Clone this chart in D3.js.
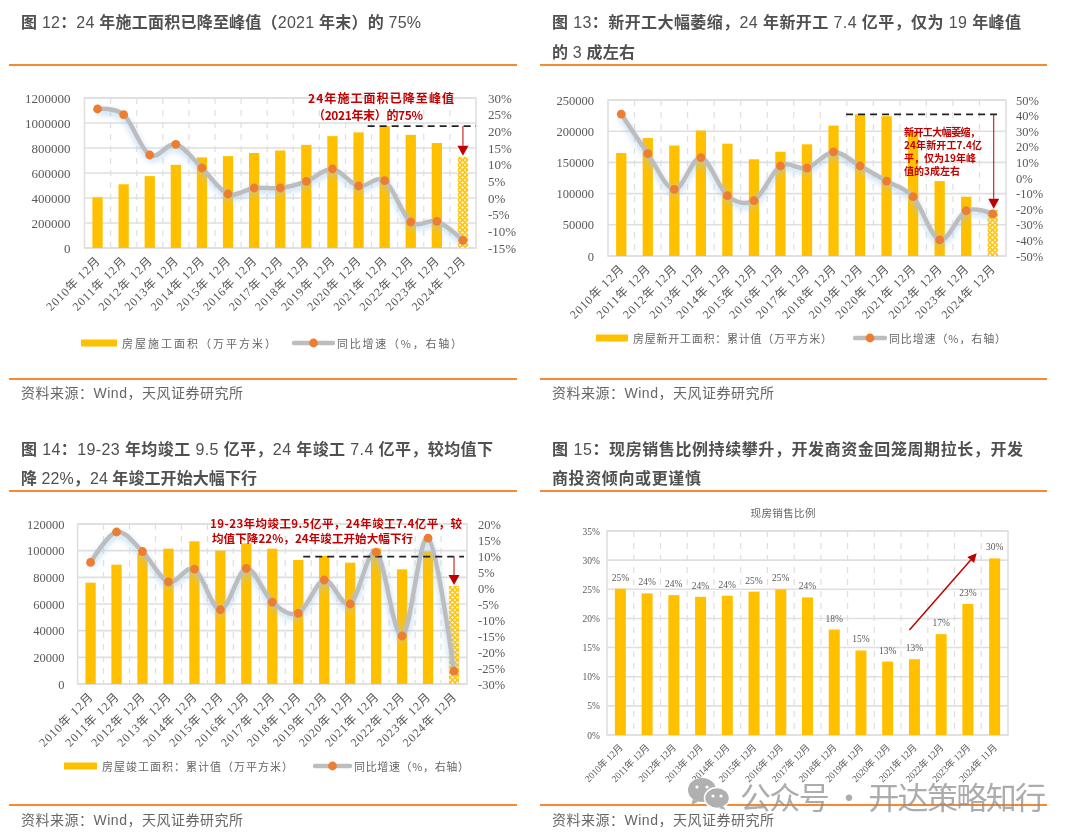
<!DOCTYPE html>
<html><head><meta charset="utf-8">
<script src="https://cdn.jsdelivr.net/npm/d3@7"></script>
<style>
html,body{margin:0;padding:0;background:#fff;}
svg{display:block;filter:blur(0.35px);}
</style></head><body>
<svg id="c" width="1080" height="838"></svg>
<script>
const years = ["2010","2011","2012","2013","2014","2015","2016","2017","2018","2019","2020","2021","2022","2023","2024"];
const catLabels = years.map(y => y + "年 12月");
const catLabels15 = years.map((y,i) => y + (i === 14 ? "年 11月" : "年 12月"));

const constructionArea = [405000,510000,575000,665000,725000,735000,760000,780000,825000,895000,925000,975000,905000,840000,730000];
const constructionYoY  = [26.7,25,12.9,16.1,9,1.2,3,3,5,8.7,3.6,5.2,-7.2,-7,-12.7];
const newStartArea = [165000,189000,177000,201000,180000,155000,167000,179000,209000,227000,224000,200000,120000,95000,74000];
const newStartYoY  = [41,15.6,-7.3,13,-11.3,-14.5,7.7,6.4,16.7,7.7,-2,-12,-39.7,-21,-23];
const completedArea = [76000,89500,98000,101500,107000,100000,105500,101500,93000,96000,91000,101500,86000,99500,73500];
const completedYoY  = [8,17.5,11.4,1.9,5.9,-6.8,6.1,-4.4,-7.9,2.5,-5,11.2,-15,15.6,-26];
const spotShare = [25.1,24.3,24,23.7,23.9,24.6,25,23.6,18.1,14.5,12.6,13,17.3,22.5,30.3];
const spotShareLabels = ["25%","24%","24%","24%","24%","25%","25%","24%","18%","15%","13%","13%","17%","23%","30%"];

const ORANGE_RULE="#f58a32", GOLD="#ffc000", RED="#c00000", TXT="#595959", GRID="#dfdfdf";
const SERIF='"Liberation Serif","Noto Sans CJK SC",serif';
const SANS='"Liberation Sans","Noto Sans CJK SC",sans-serif';
const CJK='"Noto Sans CJK SC",sans-serif';

const svg=d3.select("#c");
const defs=svg.append("defs");
const pat=defs.append("pattern").attr("id","lattice").attr("width",5).attr("height",5).attr("patternUnits","userSpaceOnUse");
pat.append("rect").attr("width",5).attr("height",5).attr("fill","#fff3c4");
pat.append("path").attr("d","M0 2.5L2.5 0L5 2.5L2.5 5Z").attr("fill","none").attr("stroke",GOLD).attr("stroke-width",1.3);
const glow=defs.append("filter").attr("id","glow").attr("x","-10%").attr("y","-30%").attr("width","120%").attr("height","160%");
glow.append("feDropShadow").attr("dx",0).attr("dy",3).attr("stdDeviation",3).attr("flood-color","#9cc8ee").attr("flood-opacity",0.75);

function txt(s,x,y,o={}){
  const t=svg.append("text").attr("x",x).attr("y",y).text(s)
    .attr("font-family",o.font||SANS).attr("font-size",o.size||12).attr("fill",o.fill||TXT)
    .attr("dominant-baseline","central");
  if(o.weight)t.attr("font-weight",o.weight);
  if(o.anchor)t.attr("text-anchor",o.anchor);
  if(o.width)t.attr("textLength",o.width).attr("lengthAdjust","spacing");
  return t;
}
function titleLine(s,x,y,w){
  const t=svg.append("text").attr("x",x).attr("y",y).attr("font-family",SANS).attr("font-size",16)
    .attr("fill","#505050").attr("dominant-baseline","central").attr("textLength",w).attr("lengthAdjust","spacing");
  (s.match(/[\x20-\x7e]+|[^\x20-\x7e]+/g)||[]).forEach(run=>{
    t.append("tspan").attr("font-weight",/^[\x20-\x7e]/.test(run)?400:700).attr("xml:space","preserve").text(run);
  });
}
function rule(x1,x2,y){svg.append("line").attr("x1",x1).attr("x2",x2).attr("y1",y).attr("y2",y).attr("stroke",ORANGE_RULE).attr("stroke-width",2);}
function header(lines,x,rx1,rx2,ry,src,srcY,ruleY2){
  lines.forEach(l=>titleLine(l.t,x,l.y,l.w));
  rule(rx1,rx2,ry); rule(rx1,rx2,ruleY2);
  txt(src,x,srcY,{size:14,fill:"#666",width:222});
}

function grid(g,x,yL,ticks,box){
  g.selectAll(".h").data(ticks).join("line").attr("x1",box.l).attr("x2",box.r)
    .attr("y1",d=>yL(d)).attr("y2",d=>yL(d)).attr("stroke",GRID).attr("stroke-width",1.6);
  const edges=d3.range(1,years.length).map(i=>x(years[i]));
  g.selectAll(".v").data(edges).join("line").attr("x1",d=>d).attr("x2",d=>d)
    .attr("y1",box.t).attr("y2",box.b).attr("stroke",GRID).attr("stroke-width",1.2).attr("stroke-dasharray","6 6");
  g.append("rect").attr("x",box.l).attr("y",box.t).attr("width",box.r-box.l).attr("height",box.b-box.t)
    .attr("fill","none").attr("stroke",GRID).attr("stroke-width",1.6);
}
function axisLabels(g,scale,orient,x,ticks,fmt,size){
  const ax=(orient==="l"?d3.axisLeft(scale):d3.axisRight(scale)).tickValues(ticks).tickFormat(fmt).tickSize(0).tickPadding(0);
  const a=g.append("g").attr("transform",`translate(${x},0)`).call(ax);
  a.select(".domain").remove();
  a.selectAll("text").attr("font-family",SERIF).attr("font-size",size).attr("fill",TXT);
}
function xLabels(g,x,labels,box,size,dy,len){
  const ax=d3.axisBottom(x).tickFormat((d,i)=>labels[i]).tickSize(0).tickPadding(0);
  const a=g.append("g").attr("transform",`translate(0,${box.b})`).call(ax);
  a.select(".domain").remove();
  a.selectAll("text").attr("font-family",SERIF).attr("font-size",size).attr("fill",TXT)
    .attr("text-anchor","end").attr("dy",0).attr("textLength",len).attr("lengthAdjust","spacing")
    .attr("transform",`translate(3,${dy}) rotate(-45)`);
}
function arrow(g,x1,y1,x2,y2,color,w,hl,hw){
  const a=Math.atan2(y2-y1,x2-x1), bx=x2-hl*Math.cos(a), by=y2-hl*Math.sin(a);
  g.append("line").attr("x1",x1).attr("y1",y1).attr("x2",bx).attr("y2",by).attr("stroke",color).attr("stroke-width",w);
  const px=-Math.sin(a)*hw/2, py=Math.cos(a)*hw/2;
  g.append("path").attr("d",`M${x2} ${y2}L${bx+px} ${by+py}L${bx-px} ${by-py}Z`).attr("fill",color);
}

function combo(o){
  const box=o.box, g=svg.append("g");
  const x=d3.scaleBand().domain(years).range([box.l,box.r]).padding(0);
  const yL=d3.scaleLinear().domain([0,o.leftMax]).range([box.b,box.t]);
  const yR=d3.scaleLinear().domain(o.rightDomain).range([box.b,box.t]);
  grid(g,x,yL,o.leftTicks,box);
  const bw=10.3, cx=d=>x(d)+x.bandwidth()/2;
  g.selectAll(".bar").data(years).join("rect")
    .attr("x",d=>cx(d)-bw/2).attr("width",bw)
    .attr("y",(d,i)=>yL(o.bars[i])).attr("height",(d,i)=>yL(0)-yL(o.bars[i]))
    .attr("fill",(d,i)=>i===14?"url(#lattice)":GOLD);
  const line=d3.line().x(d=>cx(d)).y((d,i)=>yR(o.line[i])).curve(d3.curveCatmullRom.alpha(0));
  g.append("path").attr("d",line(years)).attr("fill","none").attr("stroke","#bdbdbd").attr("stroke-width",4.4).attr("filter","url(#glow)");
  const refY=yL(o.refValue);
  g.append("line").attr("x1",cx(years[o.refFrom])-o.refBack).attr("x2",box.r-o.refEndInset).attr("y1",refY).attr("y2",refY)
    .attr("stroke","#222").attr("stroke-width",1.6).attr("stroke-dasharray","7 5");
  arrow(g,cx(years[14])+o.arrowDx,refY,cx(years[14])+o.arrowDx,yL(o.bars[14])-1,RED,1,10,11);
  g.selectAll(".dot").data(years).join("circle").attr("cx",cx).attr("cy",(d,i)=>yR(o.line[i])).attr("r",4.4).attr("fill","#ed7d31");
  axisLabels(g,yL,"l",box.l-o.leftGap,o.leftTicks,d=>String(d),o.tickSize);
  axisLabels(g,yR,"r",box.r+o.rightGap,o.rightTicks,d=>d+"%",o.tickSize);
  xLabels(g,x,catLabels,box,o.xSize,o.xDy,70);
  const L=o.legend;
  g.append("rect").attr("x",L.x0).attr("y",L.y-3.5).attr("width",L.x1-L.x0).attr("height",7).attr("fill",GOLD);
  txt(L.a,L.x1+5,L.y,{size:11,font:CJK,width:L.aw,fill:"#666"});
  g.append("line").attr("x1",L.x2).attr("x2",L.x3).attr("y1",L.y).attr("y2",L.y).attr("stroke","#bdbdbd").attr("stroke-width",4.4).attr("stroke-linecap","round");
  g.append("circle").attr("cx",(L.x2+L.x3)/2).attr("cy",L.y).attr("r",4.4).attr("fill","#ed7d31");
  txt(L.b,L.x3+4,L.y,{size:11,font:CJK,width:L.bw,fill:"#666"});
  o.notes.forEach(n=>txt(n.t,n.x,n.y,{size:n.s,font:CJK,weight:700,fill:RED,width:n.w}));
}

header([{t:"图 12：24 年施工面积已降至峰值（2021 年末）的 75%",y:22,w:400}],21,9,517,65,"资料来源：Wind，天风证券研究所",393,379);
header([{t:"图 13：新开工大幅萎缩，24 年新开工 7.4 亿平，仅为 19 年峰值",y:22,w:469},{t:"的 3 成左右",y:52,w:83}],552,540,1047,65,"资料来源：Wind，天风证券研究所",393,379);
header([{t:"图 14：19-23 年均竣工 9.5 亿平，24 年竣工 7.4 亿平，较均值下",y:449,w:472},{t:"降 22%，24 年竣工开始大幅下行",y:478,w:236}],21,9,517,491,"资料来源：Wind，天风证券研究所",820,805);
header([{t:"图 15：现房销售比例持续攀升，开发商资金回笼周期拉长，开发",y:449,w:471},{t:"商投资倾向或更谨慎",y:478,w:149}],552,540,1047,491,"资料来源：Wind，天风证券研究所",820,805);

combo({box:{l:84.5,r:476,t:98,b:248},bars:constructionArea,line:constructionYoY,leftMax:1200000,rightDomain:[-15,30],
  leftTicks:d3.range(0,1200001,200000),rightTicks:d3.range(-15,31,5),tickSize:13,xSize:12,xDy:14,leftGap:14,rightGap:12,
  refValue:975000,refFrom:11,refBack:17,refEndInset:0,arrowDx:0,
  legend:{x0:81,x1:117,x2:294,x3:333,y:343,a:"房屋施工面积（万平方米）",aw:154,b:"同比增速（%，右轴）",bw:125},
  notes:[{t:"24年施工面积已降至峰值",x:308,y:97,s:12,w:146},{t:"（2021年末）的75%",x:313,y:114,s:12,w:110}]});

combo({box:{l:608,r:1006,t:100,b:256},bars:newStartArea,line:newStartYoY,leftMax:250000,rightDomain:[-50,50],
  leftTicks:d3.range(0,250001,50000),rightTicks:d3.range(-50,51,10),tickSize:12.5,xSize:12,xDy:14,leftGap:14,rightGap:10,
  refValue:227000,refFrom:9,refBack:14,refEndInset:4,arrowDx:1,
  legend:{x0:596,x1:628,x2:855,x3:885,y:338,a:"房屋新开工面积：累计值（万平方米）",aw:199,b:"同比增速（%，右轴）",bw:117},
  notes:[{t:"新开工大幅萎缩，",x:904,y:131,s:10,w:76},{t:"24年新开工7.4亿",x:904,y:144,s:10,w:78},{t:"平，仅为19年峰",x:904,y:157,s:10,w:72},{t:"值的3成左右",x:904,y:170,s:10,w:56}]});

combo({box:{l:77.6,r:467,t:524,b:684},bars:completedArea,line:completedYoY,leftMax:120000,rightDomain:[-30,20],
  leftTicks:d3.range(0,120001,20000),rightTicks:d3.range(-30,21,5),tickSize:12.5,xSize:12,xDy:14,leftGap:13,rightGap:11,
  refValue:95500,refFrom:9,refBack:21,refEndInset:3,arrowDx:0,
  legend:{x0:64,x1:97,x2:315,x3:350,y:766,a:"房屋竣工面积：累计值（万平方米）",aw:191,b:"同比增速（%，右轴）",bw:115},
  notes:[{t:"19-23年均竣工9.5亿平，24年竣工7.4亿平，较",x:210,y:523,s:11.5,w:252},{t:"均值下降22%，24年竣工开始大幅下行",x:212,y:538,s:11.5,w:201}]});

(function(){
  const box={l:607,r:1008,t:531,b:735}, g=svg.append("g");
  const x=d3.scaleBand().domain(years).range([box.l,box.r]).padding(0);
  const y=d3.scaleLinear().domain([0,35]).range([box.b,box.t]);
  const ticks=d3.range(0,36,5);
  grid(g,x,y,ticks,box);
  const bw=11, cx=d=>x(d)+x.bandwidth()/2;
  g.selectAll(".bar").data(years).join("rect").attr("x",d=>cx(d)-bw/2).attr("width",bw)
    .attr("y",(d,i)=>y(spotShare[i])).attr("height",(d,i)=>y(0)-y(spotShare[i])).attr("fill",GOLD);
  g.selectAll(".lbl").data(years).join("text").attr("x",cx).attr("y",(d,i)=>y(spotShare[i])-11)
    .attr("text-anchor","middle").attr("dominant-baseline","central").attr("font-family",SERIF).attr("font-size",9.5).attr("fill",TXT)
    .text((d,i)=>spotShareLabels[i]);
  axisLabels(g,y,"l",box.l-7,ticks,d=>d+"%",9.5);
  xLabels(g,x,catLabels15,box,9.5,13,49);
  txt("现房销售比例",783,512,{size:10.5,font:CJK,anchor:"middle",width:65,fill:"#666"});
  arrow(g,cx(years[11])-5,y(18),cx(years[14])-18,y(31.2),RED,1.5,9,9);
})();

(function(){
  const g=svg.append("g"), c="#b0b0b0";
  g.append("ellipse").attr("cx",702).attr("cy",790).attr("rx",14).attr("ry",12).attr("fill",c);
  g.append("path").attr("d","M693 799l-2 6 7-3z").attr("fill",c);
  g.append("ellipse").attr("cx",717).attr("cy",798).attr("rx",12.5).attr("ry",10.5).attr("fill",c).attr("stroke","#fff").attr("stroke-width",1.5);
  g.append("path").attr("d","M723 806l3 4-7-2z").attr("fill",c);
  [[697,787],[707,787],[713,796],[721,796]].forEach(p=>g.append("circle").attr("cx",p[0]).attr("cy",p[1]).attr("r",1.6).attr("fill","#fff"));
  txt("公众号 · 开达策略知行",740,795,{size:31,font:CJK,fill:"#8c8c8c",width:306}).attr("opacity",0.72);
})();
</script>
</body></html>
